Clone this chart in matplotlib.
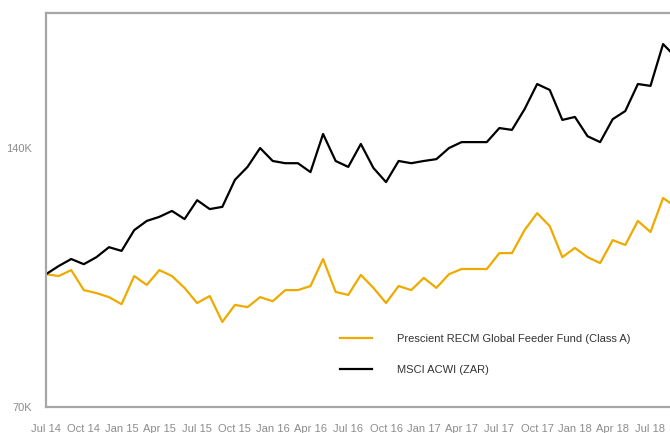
import matplotlib
matplotlib.use("Agg")
import matplotlib.pyplot as plt

# monthly values (thousands), Jul 2014 onwards
fund = [105.9, 105.4, 107.0, 101.6, 100.8, 99.7, 97.8, 105.4, 103.0, 107.0,
        105.4, 102.2, 98.1, 100.0, 93.0, 97.6, 97.0, 99.7, 98.6, 101.6,
        101.6, 102.7, 110.0, 101.1, 100.3, 105.7, 102.2, 98.1, 102.7, 101.6,
        104.9, 102.2, 105.9, 107.3, 107.3, 107.3, 111.6, 111.6, 117.8, 122.4,
        118.9, 110.5, 113.0, 110.5, 108.9, 115.1, 113.8, 120.3, 117.3, 126.5,
        124.1]
msci = [105.9, 108.1, 110.0, 108.6, 110.5, 113.2, 112.2, 117.8, 120.3, 121.4,
        123.0, 120.8, 125.9, 123.5, 124.1, 131.4, 134.9, 140.0, 136.5, 135.9,
        135.9, 133.5, 143.8, 136.5, 134.9, 141.1, 134.6, 130.8, 136.5, 135.9,
        136.5, 137.0, 140.0, 141.6, 141.6, 141.6, 145.4, 144.9, 150.5, 157.3,
        155.7, 147.6, 148.4, 143.2, 141.6, 147.8, 150.0, 157.3, 156.8, 168.1,
        164.6]
tick_labels = ["Jul 14", "Oct 14", "Jan 15", "Apr 15", "Jul 15", "Oct 15",
               "Jan 16", "Apr 16", "Jul 16", "Oct 16", "Jan 17", "Apr 17",
               "Jul 17", "Oct 17", "Jan 18", "Apr 18", "Jul 18"]
y_ticks = [70, 140]
y_tick_labels = ["70K", "140K"]

plt.rcParams['font.family'] = ['Liberation Sans', 'DejaVu Sans']

fig = plt.figure(figsize=(6.7, 4.33), dpi=100)
ax = fig.add_axes([0.0687, 0.060, 0.9313, 0.910])

months = list(range(len(fund)))
ax.plot(months, fund, color="#EFAA00", lw=1.6, label="Prescient RECM Global Feeder Fund (Class A)")
ax.plot(months, msci, color="black", lw=1.6, label="MSCI ACWI (ZAR)")

ax.set_xlim(0, 49.55)
ax.set_ylim(70, 176.5)
ax.set_xticks(range(0, 49, 3))
ax.set_xticklabels(tick_labels)
ax.set_yticks(y_ticks)
ax.set_yticklabels(y_tick_labels)
ax.tick_params(length=0, labelsize=8, colors="#8c8c8c")
ax.tick_params(axis="x", pad=12)
ax.tick_params(axis="y", pad=10)

for side in ["left", "top", "bottom"]:
    ax.spines[side].set_color("#a6a6a6")
    ax.spines[side].set_linewidth(1.6)
ax.spines["right"].set_visible(False)

leg = ax.legend(loc="upper left", bbox_to_anchor=(0.471, 0.186), frameon=False,
                fontsize=8, handlelength=2.9, handletextpad=2.2,
                labelspacing=1.9, borderpad=0, borderaxespad=0)
for t in leg.get_texts():
    t.set_color("#333333")

fig.savefig("out.png", dpi=100)
